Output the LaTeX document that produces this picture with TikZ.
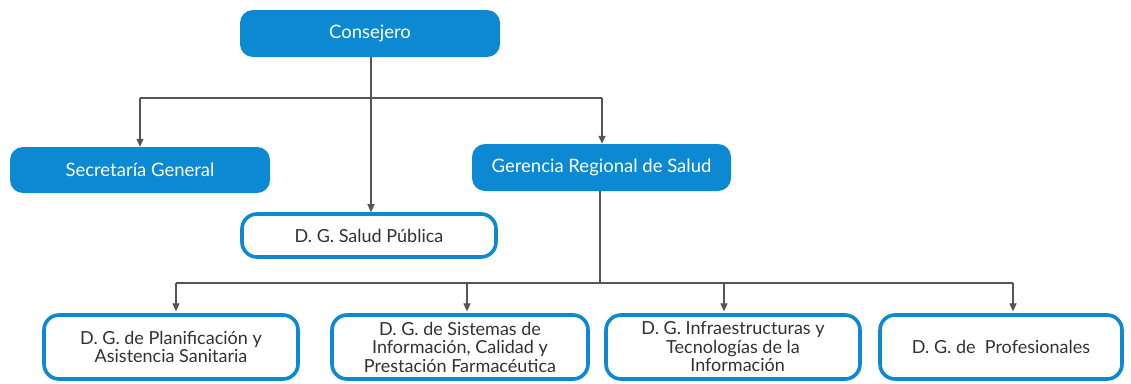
\documentclass[tikz,border=0pt]{standalone}
\usepackage{fontspec}
\setmainfont{Lato}
\usetikzlibrary{arrows.meta}
\definecolor{cblue}{RGB}{12,137,210}
\definecolor{ctext}{RGB}{50,50,50}
\definecolor{cline}{RGB}{85,85,85}
\tikzset{
  topbox/.style={fill=cblue, draw=none, rounded corners=13pt, text=white,
    font=\fontsize{18.5}{20}\selectfont, inner sep=0pt},
  subbox/.style={fill=white, draw=cblue, line width=3.6pt, rounded corners=15pt,
    text=ctext, font=\fontsize{18}{18.5}\selectfont, align=center, inner sep=0pt},
  conn/.style={draw=cline, line width=1.1pt},
  arr/.style={conn, -{Triangle[length=8pt,width=7pt]}}
}
\begin{document}
\begin{tikzpicture}[x=1pt,y=-1pt]
\useasboundingbox (0,0) rectangle (1131,383);
\node[topbox, minimum width=260pt, minimum height=47pt] (cons) at (370,33.5) {Consejero};
\node[topbox, minimum width=260pt, minimum height=46pt] (sec) at (140,170) {Secretaría General};
\node[topbox, minimum width=259pt, minimum height=47pt] (ger) at (601.5,167.5) {Gerencia Regional de Salud};
\node[subbox, minimum width=254pt, minimum height=43pt] (sp) at (369,235.5) {D. G. Salud Pública};
\node[subbox, minimum width=254pt, minimum height=64pt] (b1) at (171,347) {D. G. de Planificación y\\Asistencia Sanitaria};
\node[subbox, minimum width=256pt, minimum height=64pt] (b2) at (460,347) {D. G. de Sistemas de\\Información, Calidad y\\Prestación Farmacéutica};
\node[subbox, minimum width=254pt, minimum height=64pt] (b3) at (733,347) {D. G. Infraestructuras y\\Tecnologías de la\\\ \ Información};
\node[subbox, minimum width=242pt, minimum height=64pt] (b4) at (1001,347) {D. G. de\ \ Profesionales};
% top level connectors
\coordinate (j1) at (371,98);
\coordinate (l1) at (140,98);
\coordinate (r1) at (602,98);
\draw[conn] (cons.south -| j1) -- (j1);
\draw[arr] (cons.south -| j1) -- (sp.north -| j1);
\draw[conn] (l1) -- (r1);
\draw[arr] (l1) -- (sec.north -| l1);
\draw[arr] (r1) -- (ger.north -| r1);
% bottom connectors
\coordinate (g) at (600,283);
\coordinate (d1) at (176,283);
\coordinate (d2) at (467,283);
\coordinate (d3) at (724,283);
\coordinate (d4) at (1013,283);
\draw[conn] (ger.south -| g) -- (g);
\draw[conn] (d1) -- (d4);
\draw[arr] (d1) -- ([yshift=1.8pt]b1.north -| d1);
\draw[arr] (d2) -- ([yshift=1.8pt]b2.north -| d2);
\draw[arr] (d3) -- ([yshift=1.8pt]b3.north -| d3);
\draw[arr] (d4) -- ([yshift=1.8pt]b4.north -| d4);
\end{tikzpicture}
\end{document}
